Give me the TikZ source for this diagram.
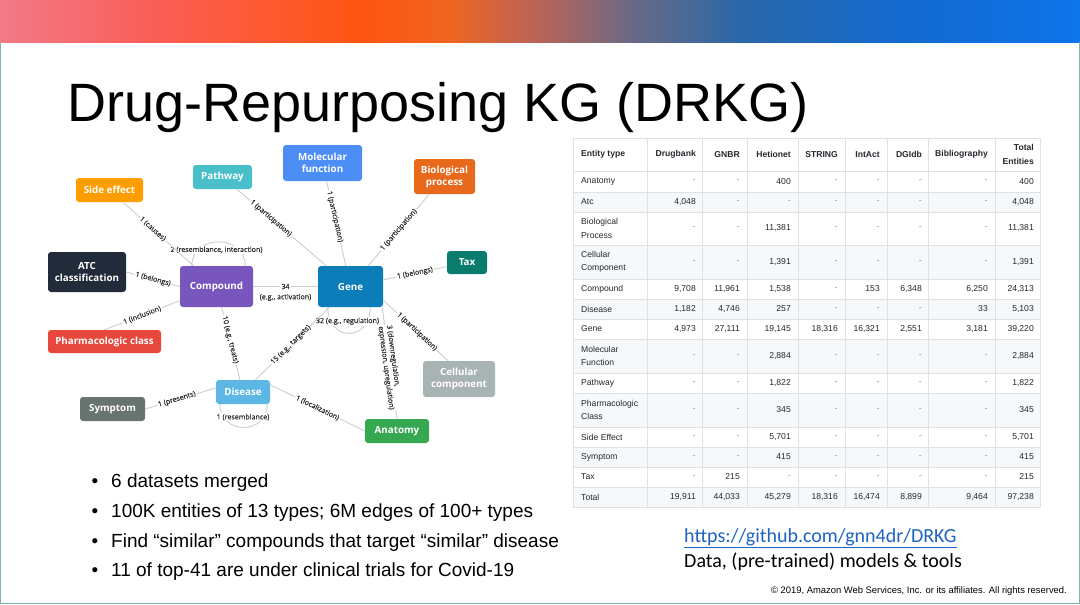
\documentclass[tikz,border=0pt]{standalone}
\usepackage{fontspec}
\setmainfont{Liberation Sans}
\newfontfamily\osans{Open Sans}
\newfontfamily\osanslbl[FakeBold=0.5]{Open Sans}
\newfontfamily\carlito{Carlito}
\usetikzlibrary{calc}
\definecolor{h1}{HTML}{F27A88}
\definecolor{h2}{HTML}{FA5E58}
\definecolor{h3}{HTML}{FF5510}
\definecolor{h4}{HTML}{EE6520}
\definecolor{h5}{HTML}{B8645A}
\definecolor{h6}{HTML}{6A6A84}
\definecolor{h7}{HTML}{2A68A8}
\definecolor{h8}{HTML}{146AD0}
\definecolor{h9}{HTML}{0E74EA}
\pgfdeclarehorizontalshading{hdr}{100bp}{color(0bp)=(h1); color(25bp)=(h1); color(31.94bp)=(h2); color(41.67bp)=(h3); color(45.83bp)=(h4); color(50bp)=(h5); color(54.17bp)=(h6); color(59.26bp)=(h7); color(66.67bp)=(h8); color(75bp)=(h9); color(100bp)=(h9)}
\definecolor{cmf}{HTML}{4C8DF6}
\definecolor{cpath}{HTML}{48BFC9}
\definecolor{cbio}{HTML}{E8681C}
\definecolor{cside}{HTML}{FF9D00}
\definecolor{catc}{HTML}{222B3A}
\definecolor{ccomp}{HTML}{7856BE}
\definecolor{cgene}{HTML}{0B7DB9}
\definecolor{ctax}{HTML}{0A7C6E}
\definecolor{cpharm}{HTML}{E8473C}
\definecolor{ccell}{HTML}{A8B3B4}
\definecolor{cdis}{HTML}{5CB7E5}
\definecolor{csymp}{HTML}{687472}
\definecolor{canat}{HTML}{36A852}
\definecolor{edgec}{HTML}{C8D0D0}
\definecolor{lblc}{HTML}{2E2E2E}
\definecolor{tc}{HTML}{24292E}
\definecolor{dashc}{HTML}{8A8F94}
\definecolor{tline}{HTML}{DFE2E5}
\definecolor{tshade}{HTML}{F6F8FA}
\definecolor{linkc}{HTML}{1F64C0}
\definecolor{framec}{HTML}{7DB9A8}
\newcommand\dd{\textcolor{dashc}{-}}
\newcommand\trow[4]{%
  \node[tname] (#1-0) at (581,#2) {#3};
  \foreach \v [count=\i] in {#4} {
    \pgfmathsetmacro\cx{{696,740,791,838,880,922,988,1034}[\i-1]}
    \node[tnum] (#1-\i) at (\cx,#2) {\v};
  }}
\begin{document}
\begin{tikzpicture}[x=1pt,y=-1pt,
  ent/.style={rounded corners=3pt, text=white, font=\osans\bfseries\fontsize{9.8}{12}\selectfont, align=center, inner sep=0pt},
  edge/.style={draw=edgec, line width=0.9pt},
  lbl/.style={font=\osanslbl\fontsize{7.1}{8.6}\selectfont, text=lblc, inner sep=1pt},
  lblw/.style={lbl, fill=white},
  tname/.style={anchor=west, font=\fontsize{8.6}{13.5}\selectfont, text=tc, align=left, inner sep=0pt},
  tnum/.style={anchor=east, font=\fontsize{8.6}{13.5}\selectfont, text=tc, inner sep=0pt},
  thead/.style={font=\bfseries\fontsize{8.6}{13.5}\selectfont, text=tc, inner sep=0pt},
  bul/.style={font=\fontsize{19}{22}\selectfont, inner sep=0pt}
]
\useasboundingbox (0,0) rectangle (1080,605);
\fill[white] (0,0) rectangle (1080,605);
% header bar
\fill[shading=hdr] (0,0) rectangle (1080,42);
\draw[framec, line width=1pt] (0.5,42) -- (0.5,603.5) -- (1079.5,603.5) -- (1079.5,42);
% title
\node[anchor=base west, font=\fontsize{54}{60}\selectfont, inner sep=0pt] (title) at (67,121) {Drug-Repurposing KG (DRKG)};

% ---------- graph ----------
\node[ent, fill=cmf, minimum width=79pt, minimum height=36pt] (mf) at (322.5,163) {Molecular\\function};
\node[ent, fill=cpath, minimum width=59pt, minimum height=24pt] (path) at (222.5,177) {Pathway};
\node[ent, fill=cbio, minimum width=61pt, minimum height=35pt] (bio) at (444.5,176.5) {Biological\\process};
\node[ent, fill=cside, minimum width=67pt, minimum height=24pt] (side) at (109.5,190) {Side effect};
\node[ent, fill=catc, minimum width=78pt, minimum height=40pt] (atc) at (87,272) {ATC\\classification};
\node[ent, fill=ccomp, minimum width=73pt, minimum height=41pt] (comp) at (216.5,286.5) {Compound};
\node[ent, fill=cgene, minimum width=65pt, minimum height=41pt] (gene) at (350.5,286.5) {Gene};
\node[ent, fill=ctax, minimum width=40pt, minimum height=23pt] (tax) at (467,262.5) {Tax};
\node[ent, fill=cpharm, minimum width=113pt, minimum height=23pt] (pharm) at (104.5,341.5) {Pharmacologic class};
\node[ent, fill=ccell, minimum width=72pt, minimum height=36pt] (cell) at (459,379) {Cellular\\component};
\node[ent, fill=cdis, minimum width=54pt, minimum height=24pt] (dis) at (243,392) {Disease};
\node[ent, fill=csymp, minimum width=65pt, minimum height=24pt] (symp) at (112.5,409) {Symptom};
\node[ent, fill=canat, minimum width=64pt, minimum height=24pt] (anat) at (397,431) {Anatomy};

% self loops
\draw[edge] ([xshift=12pt]comp.north west) .. controls +(0,-32) and +(0,-32) .. ([xshift=-8pt]comp.north east);
\draw[edge] ([xshift=10pt]gene.south west) .. controls +(0,35) and +(0,35) .. ([xshift=-13pt]gene.south east);
\draw[edge] ([xshift=4pt]dis.south west) .. controls +(0,31) and +(0,31) .. ([xshift=-3pt]dis.south east);
\node[lblw] (lcomp) at ([yshift=16pt]comp.north) {2 (resemblance, interaction)};
\node[lblw] (lgene) at ([yshift=-14pt,xshift=-3pt]gene.south) {32 (e.g., regulation)};
\node[lblw] (ldis) at ([yshift=-13pt]dis.south) {1 (resemblance)};

% edges
\draw[edge] (side) -- node[lblw,sloped,pos=0.42]{1 (causes)} (comp);
\draw[edge] (path) -- node[lblw,sloped,pos=0.38]{1 (participation)} (gene);
\draw[edge] (mf) -- node[lblw,sloped,pos=0.42]{1 (participation)} (gene);
\draw[edge] (bio) -- node[lblw,sloped,pos=0.5]{1 (participation)} (gene);
\draw[edge] (tax) -- node[lblw,sloped,pos=0.5]{1 (belongs)} (gene);
\draw[edge] (atc.east) -- node[lblw,sloped,pos=0.5]{1 (belongs)} (comp.west);
\draw[edge] (pharm.north) -- node[lblw,sloped,pos=0.5]{1 (inclusion)} (comp);
\draw[edge] (comp) -- node[lblw,sloped,pos=0.45]{10 (e.g., treats)} (dis);
\draw[edge] (gene) -- node[lblw,sloped,pos=0.52]{15 (e.g., targets)} (dis);
\draw[edge] ([xshift=-1pt]gene.south east) -- node[lblw,sloped,pos=0.54,align=left]{3 (downregulation,\\expression, upregulation)} (anat.north);
\draw[edge] ([yshift=7pt]gene.south east) -- node[lblw,sloped,pos=0.52]{1 (participation)} ([xshift=-11pt]cell.north);
\draw[edge] ([yshift=-5pt]dis.north east) -- node[lblw,sloped,pos=0.5]{1 (localization)} (anat.west);
\draw[edge] (symp.east) -- node[lblw,sloped,pos=0.45]{1 (presents)} ([yshift=4pt]dis.west);
\draw[edge] (comp) -- node[lblw]{34} node[lbl,yshift=-11pt]{(e.g., activation)} (gene);

% ---------- table ----------
\foreach \a/\b in {192/212,245/279,299/319,339/373,393/427,447/467,487/507}
  \fill[tshade] (573,\a) rectangle (1040,\b);
\foreach \y in {138,171,192,212,245,279,299,319,339,373,393,427,447,467,487,507}
  \draw[tline, line width=0.6pt] (573,\y) -- (1040,\y);
\foreach \x in {573,647,702,747,798,845,887,928,995,1040}
  \draw[tline, line width=0.6pt] (\x,138) -- (\x,507);
\node[thead, anchor=west] (h0) at (581,154.5) {Entity type};
\node[thead, anchor=east] (h1) at (696,154.5) {Drugbank};
\node[thead, anchor=east] (h2) at (740,154.5) {GNBR};
\node[thead, anchor=east] (h3) at (791,154.5) {Hetionet};
\node[thead, anchor=east] (h4) at (838,154.5) {STRING};
\node[thead, anchor=east] (h5) at (880,154.5) {IntAct};
\node[thead, anchor=east] (h6) at (922,154.5) {DGIdb};
\node[thead, anchor=east] (h7) at (988,154.5) {Bibliography};
\node[thead, anchor=east, align=right] (h8) at (1034,154.5) {Total\\Entities};
\trow{tanat}{181.5}{Anatomy}{\dd,\dd,400,\dd,\dd,\dd,\dd,400}
\trow{tatc}{202}{Atc}{{4,048},\dd,\dd,\dd,\dd,\dd,\dd,{4,048}}
\trow{tbio}{228.5}{Biological\\Process}{\dd,\dd,{11,381},\dd,\dd,\dd,\dd,{11,381}}
\trow{tcell}{262}{Cellular\\Component}{\dd,\dd,{1,391},\dd,\dd,\dd,\dd,{1,391}}
\trow{tcomp}{289}{Compound}{{9,708},{11,961},{1,538},\dd,153,{6,348},{6,250},{24,313}}
\trow{tdis}{309}{Disease}{{1,182},{4,746},257,\dd,\dd,\dd,33,{5,103}}
\trow{tgene}{329}{Gene}{{4,973},{27,111},{19,145},{18,316},{16,321},{2,551},{3,181},{39,220}}
\trow{tmol}{356}{Molecular\\Function}{\dd,\dd,{2,884},\dd,\dd,\dd,\dd,{2,884}}
\trow{tpath}{383}{Pathway}{\dd,\dd,{1,822},\dd,\dd,\dd,\dd,{1,822}}
\trow{tpharm}{410}{Pharmacologic\\Class}{\dd,\dd,345,\dd,\dd,\dd,\dd,345}
\trow{tside}{437}{Side Effect}{\dd,\dd,{5,701},\dd,\dd,\dd,\dd,{5,701}}
\trow{tsymp}{457}{Symptom}{\dd,\dd,415,\dd,\dd,\dd,\dd,415}
\trow{ttax}{477}{Tax}{\dd,215,\dd,\dd,\dd,\dd,\dd,215}
\trow{ttot}{497}{Total}{{19,911},{44,033},{45,279},{18,316},{16,474},{8,899},{9,464},{97,238}}

% ---------- bullets ----------
\foreach \yy/\tx [count=\k] in {487/{6 datasets merged},517/{100K entities of 13 types; 6M edges of 100+ types},547/{Find “similar” compounds that target “similar” disease},576/{11 of top-41 are under clinical trials for Covid-19}} {
  \node[bul, anchor=base] (dot\k) at (95,\yy) {•};
  \node[bul, anchor=base west] (bt\k) at (111,\yy) {\tx};
}
% link and note
\node[anchor=base west, inner sep=0pt, font=\carlito\fontsize{20}{24}\selectfont, text=linkc] (link) at (684,542) {\underline{https://github.com/gnn4dr/DRKG}};
\node[anchor=base west, inner sep=0pt, font=\carlito\fontsize{20}{24}\selectfont] (data) at (684,567) {Data, (pre-trained) models \& tools};
\node[anchor=base east, inner sep=0pt, font=\fontsize{9.4}{11}\selectfont] (copy) at (1067,593) {© 2019, Amazon Web Services, Inc. or its affiliates. All rights reserved.};
\end{tikzpicture}
\end{document}
